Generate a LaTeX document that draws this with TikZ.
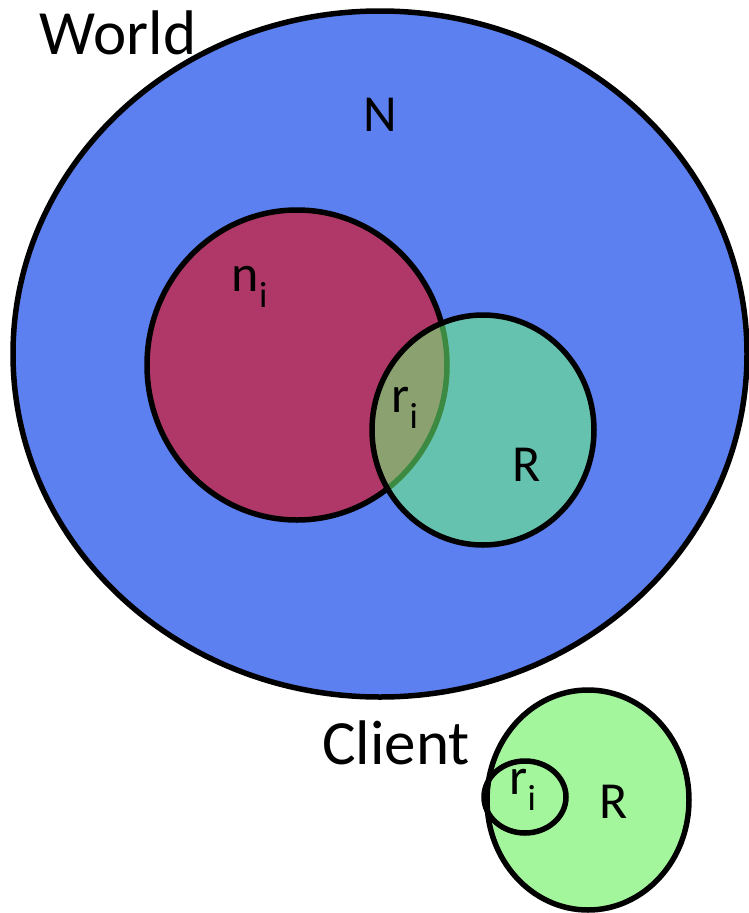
\documentclass[tikz,border=0pt]{standalone}
\usepackage{fontspec}
\setmainfont{Carlito}
\usetikzlibrary{shapes.geometric}
\definecolor{worldblue}{RGB}{92,128,240}
\definecolor{setred}{RGB}{176,56,104}
\definecolor{setgreen}{RGB}{164,246,156}
\definecolor{overgreen}{RGB}{110,250,120}
\begin{document}
\begin{tikzpicture}[
    x=1pt, y=-1pt,
    set/.style={draw, ellipse, line width=5.5pt, inner sep=0pt},
    title/.style={font=\fontsize{63}{70}\selectfont},
    lbl/.style={font=\fontsize{52}{60}\selectfont}
]
    \useasboundingbox (0,0) rectangle (748,913);
    % the world and its two sets
    \node[set, fill=worldblue, minimum width=734pt, minimum height=686pt] (world) at (380,354) {};
    \node[set, fill=setred, minimum width=300pt, minimum height=310pt] (nset) at (297,365) {};
    \node[set, fill=overgreen, fill opacity=0.55, minimum width=222pt, minimum height=230pt] (rset) at (483,430) {};
    % the client holds its own copy of R
    \node[set, fill=setgreen, minimum width=202pt, minimum height=220pt] (client) at (588,800) {};
    \node[set, minimum width=82pt, minimum height=72pt] (rsub) at (525,797) {};

    \node[title] (worldlbl) at (118,33) {World};
    \node[title] (clientlbl) at (396,743) {Client};
    \node[lbl] (nlbl) at (380,115) {N};
    \node[lbl] (nilbl) at (250,287) {n\textsubscript{i}};
    \node[lbl] (rilbl) at (405,408) {r\textsubscript{i}};
    \node[lbl] (rlbl) at (527,465) {R};
    \node[lbl] (crilbl) at (523,790) {r\textsubscript{i}};
    \node[lbl] (crlbl) at (614,802) {R};
\end{tikzpicture}
\end{document}
